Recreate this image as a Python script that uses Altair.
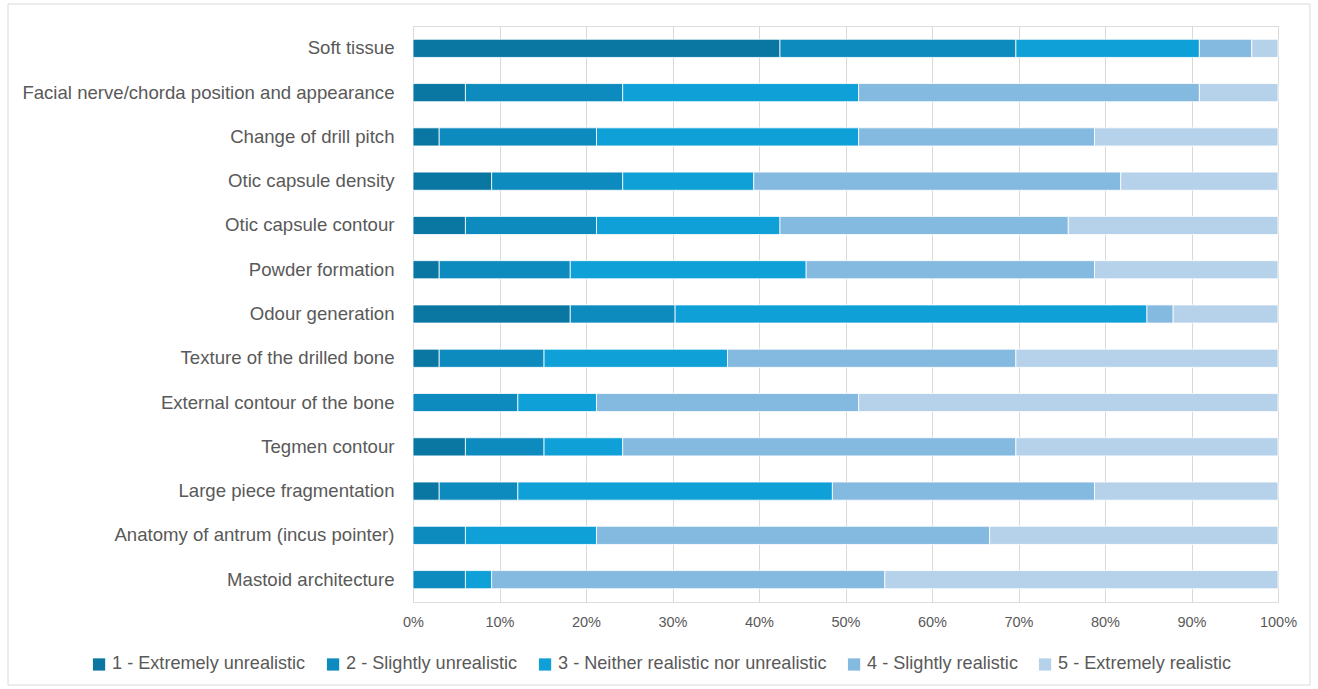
import altair as alt
import pandas as pd

categories = [
    "Soft tissue",
    "Facial nerve/chorda position and appearance",
    "Change of drill pitch",
    "Otic capsule density",
    "Otic capsule contour",
    "Powder formation",
    "Odour generation",
    "Texture of the drilled bone",
    "External contour of the bone",
    "Tegmen contour",
    "Large piece fragmentation ",
    "Anatomy of antrum (incus pointer)",
    "Mastoid architecture",
]
ratings = [
    "1 - Extremely unrealistic",
    "2 - Slightly unrealistic",
    "3 - Neither realistic nor unrealistic",
    "4 - Slightly realistic",
    "5 - Extremely realistic",
]
colors = ["#0A77A3", "#0E8BBE", "#10A0D8", "#84B9E0", "#B6D2EB"]

r1 = [14, 2, 1, 3, 2, 1, 6, 1, 0, 2, 1, 0, 0]
r2 = [9, 6, 6, 5, 5, 5, 4, 4, 4, 3, 3, 2, 2]
r3 = [7, 9, 10, 5, 7, 9, 18, 7, 3, 3, 12, 5, 1]
r4 = [2, 13, 9, 14, 11, 11, 1, 11, 10, 15, 10, 15, 15]
r5 = [1, 3, 7, 6, 8, 7, 4, 10, 16, 10, 7, 11, 15]
series = [r1, r2, r3, r4, r5]

rows = []
for ri, (rating, vals) in enumerate(zip(ratings, series)):
    for cat, v in zip(categories, vals):
        rows.append({"category": cat, "rating": rating, "order": ri, "count": v})
df = pd.DataFrame(rows)

FONT = "Liberation Sans"
TXT = "#595959"

bars = alt.Chart(df).mark_bar(stroke="white", strokeWidth=0.8).encode(
    x=alt.X(
        "count:Q",
        stack="normalize",
        scale=alt.Scale(domain=[0, 1], nice=False),
        axis=alt.Axis(
            format="%",
            values=[i / 10 for i in range(11)],
            title=None,
            domain=False,
            ticks=False,
            grid=True,
            gridColor="#d9d9d9",
            gridWidth=1,
            labelFontSize=14.5,
            labelColor=TXT,
            labelFont=FONT,
            labelPadding=13,
            labelFlush=False,
            labelOverlap=False,
        ),
    ),
    y=alt.Y(
        "category:N",
        sort=categories,
        scale=alt.Scale(paddingInner=0.59, paddingOuter=0.3),
        axis=alt.Axis(
            title=None,
            domain=False,
            ticks=False,
            labelFontSize=18.6,
            labelColor=TXT,
            labelFont=FONT,
            labelPadding=19,
            labelLimit=600,
        ),
    ),
    color=alt.Color(
        "rating:N",
        scale=alt.Scale(domain=ratings, range=colors),
        legend=alt.Legend(
            title=None,
            orient="none",
            direction="horizontal",
            columns=5,
            legendX=-323,
            legendY=629,
            symbolType="square",
            symbolSize=150,
            symbolStrokeWidth=0,
            labelFontSize=18.1,
            labelFont=FONT,
            labelColor=TXT,
            labelOffset=4,
            columnPadding=18,
            labelLimit=600,
        ),
    ),
    order=alt.Order("order:Q", sort="ascending"),
)

frame = alt.Chart(pd.DataFrame({"a": [0]})).mark_rect(
    fill=None, stroke="#d9d9d9", strokeWidth=1
).encode(
    x=alt.value(-405), x2=alt.value(897), y=alt.value(-22), y2=alt.value(659)
)

chart = alt.layer(frame, bars).properties(
    width=865,
    height=576,
    padding={"left": 413, "top": 26, "right": 40, "bottom": 87},
    autosize=alt.AutoSizeParams(type="none"),
).configure_view(stroke=None).configure(background="white")

chart.save("out.html", embed_options={"renderer": "svg", "actions": False})
